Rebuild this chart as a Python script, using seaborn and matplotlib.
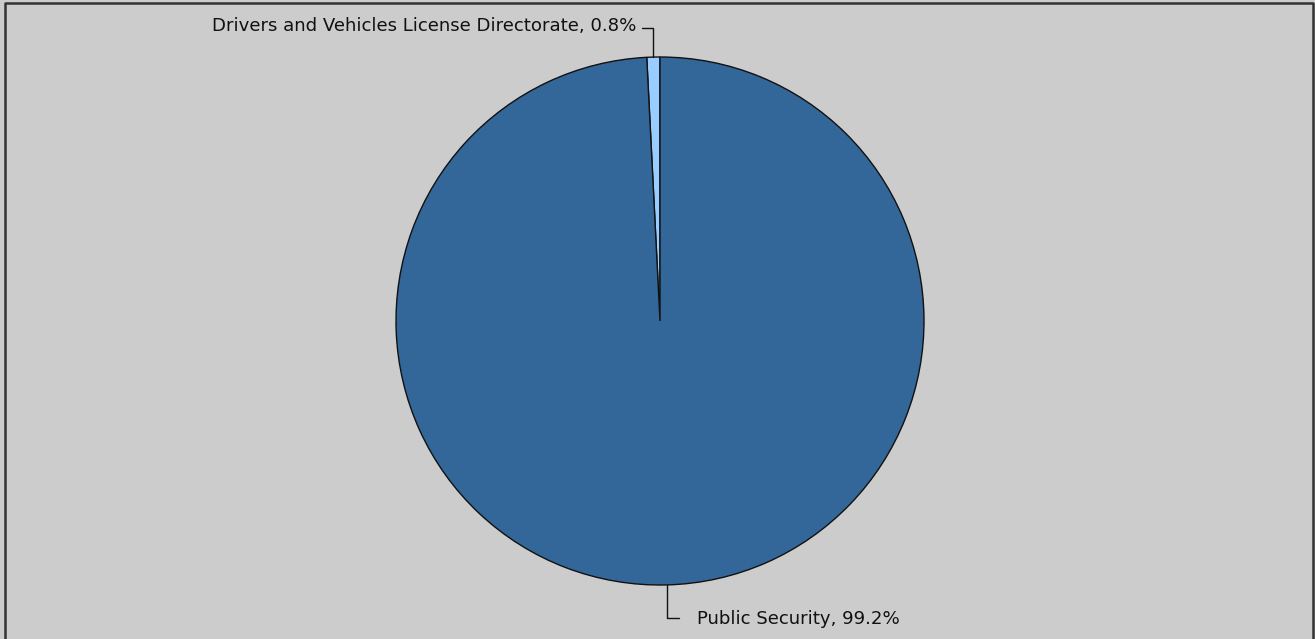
import numpy as np
import matplotlib
matplotlib.use("Agg")
import matplotlib.pyplot as plt
import seaborn as sns
from matplotlib.lines import Line2D

categories = ["Drivers and Vehicles License Directorate", "Public Security"]
shares = [0.8, 99.2]
label_texts = ["Drivers and Vehicles License Directorate, 0.8%", "Public Security, 99.2%"]

sns.set_theme(style="white")
plt.rcParams['font.family'] = ['DejaVu Sans']

W, H = 1315, 639
fig = plt.figure(figsize=(W / 100, H / 100), dpi=100, facecolor="#cccccc")
ax = fig.add_axes([0, 0, 1, 1])
ax.set_facecolor("#cccccc")

colors = ["#99ccff", "#336699"]
cx, cy, r = 660, H - 321, 264
wedges, _ = ax.pie(shares, colors=colors, startangle=90, counterclock=True,
                   center=(cx, cy), radius=r,
                   wedgeprops=dict(edgecolor="#111111", linewidth=1.0))
ax.set_xlim(0, W)
ax.set_ylim(0, H)
ax.set_aspect("equal")
ax.axis("off")

# leader lines and labels
for w, txt in zip(wedges, label_texts):
    mid = np.deg2rad((w.theta1 + w.theta2) / 2)
    x0 = cx + r * np.cos(mid)
    y0 = cy + r * np.sin(mid)
    if np.sin(mid) > 0:
        y1 = H - 28
        x1 = x0 - 11
        ax.add_line(Line2D([x0, x0, x1], [y0, y1, y1], color="#111111", lw=1.0))
        ax.text(x1 - 6, y1 + 2, txt, ha="right", va="center", fontsize=13.1, color="#111111")
    else:
        y1 = H - 618
        x1 = x0 + 12
        ax.add_line(Line2D([x0, x0, x1], [y0, y1, y1], color="#111111", lw=1.0))
        ax.text(x1 + 18, y1 - 1, txt, ha="left", va="center", fontsize=13.1, color="#111111")

# outer border (top, left, right)
ax.add_line(Line2D([5, 5, W - 2, W - 2], [-5, H - 3, H - 3, -5], color="#333333", lw=1.8,
                   clip_on=False))

fig.savefig("out.png", dpi=100, facecolor=fig.get_facecolor())
